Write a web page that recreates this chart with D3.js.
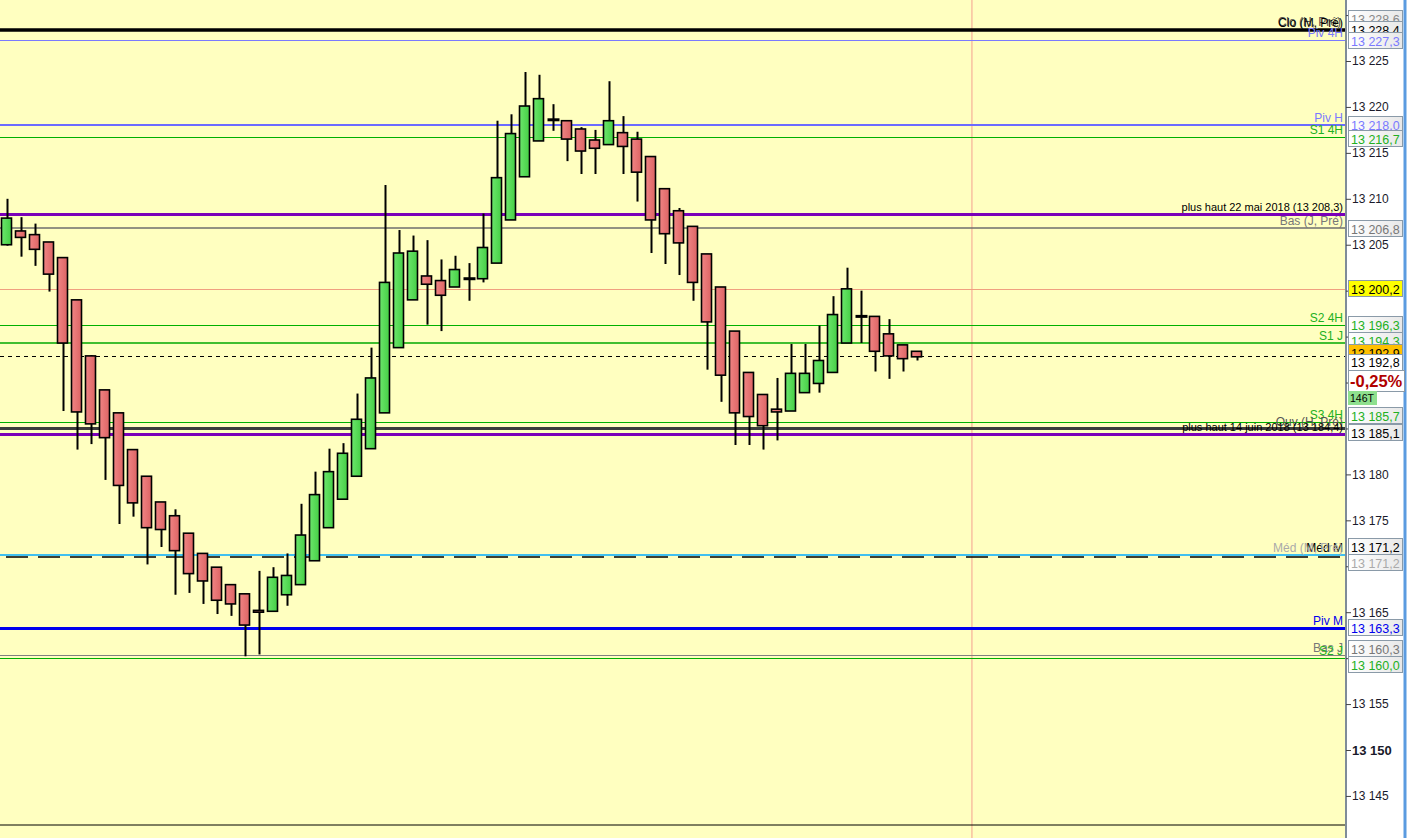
<!DOCTYPE html>
<html><head><meta charset="utf-8">
<script src="https://cdn.jsdelivr.net/npm/d3@7"></script>
<style>
html,body{margin:0;padding:0;background:#fff;overflow:hidden}
svg{display:block;font-family:"Liberation Sans",Arial,sans-serif}
</style></head>
<body>
<svg id="c" width="1407" height="838"></svg>
<script>
// ---- data ----
const candleIndex = d3.range(66);
const opens  = [13205.0,13206.5,13206.1,13205.3,13203.6,13199.0,13192.9,13189.2,13186.7,13182.7,13179.8,13177.0,13175.5,13173.6,13171.4,13169.9,13168.0,13167.0,13165.2,13165.1,13166.9,13168.0,13170.6,13174.2,13177.3,13179.8,13182.8,13186.7,13193.8,13199.0,13201.6,13201.1,13200.4,13201.3,13201.3,13203.0,13207.7,13212.4,13216.3,13218.6,13218.5,13217.6,13216.4,13215.9,13217.2,13216.5,13214.6,13211.1,13208.7,13207.0,13204.0,13200.4,13195.6,13191.1,13188.7,13187.1,13186.9,13188.9,13189.9,13191.1,13194.3,13197.2,13197.2,13195.3,13194.1,13193.4];
const highs  = [13210.0,13208.0,13207.3,13205.3,13203.6,13199.0,13193.0,13189.2,13186.7,13182.7,13179.8,13177.0,13176.2,13173.6,13171.4,13169.9,13168.0,13167.0,13169.5,13169.9,13171.4,13176.8,13180.3,13182.8,13183.4,13188.8,13193.8,13211.5,13206.6,13206.0,13205.5,13203.4,13203.8,13203.0,13208.4,13218.5,13219.2,13223.8,13223.5,13220.3,13218.5,13217.8,13217.5,13222.8,13219.0,13217.3,13214.6,13211.1,13209.0,13207.0,13204.0,13200.4,13195.6,13191.1,13188.7,13190.5,13194.2,13194.2,13196.2,13199.4,13202.5,13200.0,13197.2,13196.9,13194.1,13193.4];
const lows   = [13204.9,13203.7,13202.7,13199.9,13186.9,13182.7,13183.3,13179.4,13174.6,13175.4,13170.2,13172.1,13166.9,13167.1,13165.9,13164.8,13164.6,13160.2,13160.4,13165.1,13165.7,13168.0,13170.6,13174.2,13177.3,13179.8,13182.8,13186.7,13193.8,13199.0,13196.3,13195.6,13200.4,13198.9,13200.9,13203.0,13207.7,13212.4,13216.3,13217.4,13214.1,13212.7,13212.7,13215.9,13212.7,13209.7,13204.1,13202.9,13201.7,13198.9,13191.4,13187.9,13183.2,13183.2,13182.7,13183.7,13186.9,13188.9,13188.9,13191.1,13194.3,13194.3,13191.2,13190.4,13191.2,13192.4];
const closes = [13207.9,13205.8,13204.5,13201.8,13194.3,13186.8,13185.5,13184.0,13178.8,13176.9,13174.2,13174.0,13171.7,13169.2,13168.4,13166.3,13165.9,13163.6,13165.0,13168.8,13169.0,13173.4,13177.8,13180.3,13182.3,13186.0,13190.5,13200.9,13204.1,13204.3,13200.7,13199.5,13202.3,13201.3,13204.7,13212.3,13217.1,13220.1,13220.9,13218.6,13216.5,13215.2,13215.5,13218.5,13215.7,13212.9,13207.7,13206.2,13205.2,13200.9,13196.6,13190.8,13186.7,13186.3,13185.3,13186.8,13191.0,13191.0,13192.4,13197.4,13200.2,13197.2,13193.4,13192.9,13192.6,13192.8];

const levelValues = [13228.6,13228.4,13227.3,13218.0,13216.7,13208.3,13206.8,13200.2,13196.3,13194.3,13192.9,13185.7,13185.1,13184.4,13171.2,13171.2,13163.3,13160.3,13160.0];
const levelNames  = ["Clo (H, Pré)","Clo (M, Pré)","Piv 4H","Piv H","S1 4H","plus haut 22 mai 2018 (13 208,3)","Bas (J, Pré)","Dernier","S2 4H","S1 J","Clôture","S3 4H","Ouv (H, Pré)","plus haut 14 juin 2018 (13 184,4)","Méd M","Méd (M, Pré)","Piv M","Bas J","S2 J"];
const lastClose = 13192.8;
const changeText = "-0,25%";
const tickText = "146T";
const tickValues = [13145,13150,13155,13160,13165,13170,13175,13180,13185,13190,13195,13200,13205,13210,13215,13220,13225,13230];
const cursorIndex = 68.96;

// ---- styles ----
const W=1407,H=838, plotR=1345, plotB=825;
const styleOf = {
 "Clo (H, Pré)":{c:"#000",w:0,lab:"#555",box:"#888"},
 "Clo (M, Pré)":{c:"#000",w:3.5,lab:"#000",box:"#000"},
 "Piv 4H":{c:"#7a7aff",w:1,lab:"#7a7aff",box:"#7a7aff"},
 "Piv H":{c:"#6b6bff",w:2,lab:"#7a7aff",box:"#7a7aff"},
 "S1 4H":{c:"#00b000",w:1,lab:"#22b022",box:"#22b022"},
 "plus haut 22 mai 2018 (13 208,3)":{c:"#7a00b8",w:3,lab:"#000",box:null},
 "Bas (J, Pré)":{c:"#6e6e6e",w:1.5,lab:"#777",box:"#777"},
 "Dernier":{c:"#f0a080",w:1,lab:null,box:"#000",fill:"#ffff00"},
 "S2 4H":{c:"#00b000",w:1,lab:"#22b022",box:"#22b022"},
 "S1 J":{c:"#00a800",w:1.5,lab:"#22b022",box:"#22b022"},
 "Clôture":{c:"#000",w:1,dash:"4,4",lab:null,box:"#000",fill:"#ffc000"},
 "S3 4H":{c:"#00b000",w:1,lab:"#22b022",box:"#22b022"},
 "Ouv (H, Pré)":{c:"#3c3c3c",w:3,lab:"#555",box:"#000"},
 "plus haut 14 juin 2018 (13 184,4)":{c:"#7a00b8",w:3,lab:"#000",box:null},
 "Méd M":{c:"#000",w:1.6,dash:"22,10",dy:2,lab:"#000",box:"#000"},
 "Méd (M, Pré)":{c:"#40c0f0",w:2,lab:"#aaa",box:"#aaa"},
 "Piv M":{c:"#0000ee",w:3,lab:"#0000ee",box:"#0000ee"},
 "Bas J":{c:"#808080",w:1,lab:"#777",box:"#777"},
 "S2 J":{c:"#00b000",w:1,lab:"#22b022",box:"#22b022"}
};
const boxY = {"Clo (H, Pré)":19,"Clo (M, Pré)":30,"Piv 4H":41,"Piv H":125,"S1 4H":139,"Bas (J, Pré)":229,"Dernier":289,"S2 4H":325,"S1 J":341,"Clôture":353,"S3 4H":416,"Ouv (H, Pré)":433,"Méd M":547,"Méd (M, Pré)":563,"Piv M":628,"Bas J":649,"S2 J":665};
const extraBoxY=[362,381,398];

const svg=d3.select("#c");
const defs=svg.append("defs");
function grad(id,a,b){const g=defs.append("linearGradient").attr("id",id).attr("x1","0").attr("x2","1").attr("y1","0").attr("y2","0");
 g.append("stop").attr("offset","0").attr("stop-color",a);g.append("stop").attr("offset","1").attr("stop-color",b);}
grad("gUp","#6ce66c","#45cf45");grad("gDn","#f08484","#dd6464");grad("gBox","#ffffff","#e8e8e8");

const y=d3.scaleLinear().domain([13150,13225]).range([750,61]);
const x=d3.scaleBand().domain(candleIndex).range([-0.5,-0.5+14*candleIndex.length]).paddingInner(0.28).paddingOuter(0.14);
const step=x.step(), bw=x.bandwidth();
const cx=i=>x(i)+bw/2;

svg.append("rect").attr("x",0).attr("y",0).attr("width",W).attr("height",H).attr("fill","#fff");
svg.append("rect").attr("x",0).attr("y",0).attr("width",plotR).attr("height",H).attr("fill","#ffffc0");

// vertical cursor line
svg.append("line").attr("x1",cx(0)+cursorIndex*step).attr("x2",cx(0)+cursorIndex*step).attr("y1",0).attr("y2",H).attr("stroke","#f4a090").attr("stroke-width",1);

// level lines
levelValues.forEach((v,i)=>{
 const s=styleOf[levelNames[i]]; if(!s.w) return;
 const yy=Math.round(y(v))+(s.dy||0)+0.5*(Math.round(s.w)%2);
 svg.append("line").attr("x1",s.dash==="22,10"?6:0).attr("x2",plotR).attr("y1",yy).attr("y2",yy)
  .attr("stroke",s.c).attr("stroke-width",s.w).attr("stroke-dasharray",s.dash||null);
});

// candles
const g=svg.append("g");
candleIndex.forEach(i=>{
 const o=opens[i],c=closes[i],h=highs[i],l=lows[i];
 const X=Math.round(cx(i))+0.5;
 g.append("line").attr("x1",X).attr("x2",X).attr("y1",y(h)).attr("y2",y(l)).attr("stroke","#000").attr("stroke-width",2);
 if(o===c){
  g.append("line").attr("x1",X-6).attr("x2",X+6).attr("y1",y(o)).attr("y2",y(o)).attr("stroke","#000").attr("stroke-width",3);
 } else {
  const top=y(Math.max(o,c)), bot=y(Math.min(o,c));
  g.append("rect").attr("x",Math.round(x(i))+0.5).attr("y",top).attr("width",Math.round(bw)).attr("height",Math.max(1,bot-top))
   .attr("fill",c>o?"url(#gUp)":"url(#gDn)").attr("stroke","#000").attr("stroke-width",1.6);
 }
});

// level labels (left of axis)
levelValues.forEach((v,i)=>{
 const n=levelNames[i], s=styleOf[n]; if(!s.lab) return;
 let yy=y(v)-3;
 if(n==="Clo (H, Pré)"||n==="Ouv (H, Pré)") yy=y(v)-2;
 svg.append("text").attr("x",n==="Clo (H, Pré)"?plotR-4:plotR-2).attr("y",yy).attr("text-anchor","end")
  .attr("font-size",n.startsWith("plus haut")?11:12).attr("fill",s.lab).text(n);
});

// bottom border
svg.append("line").attr("x1",0).attr("x2",plotR).attr("y1",plotB).attr("y2",plotB).attr("stroke","#000").attr("stroke-width",1);

// axis
const allBoxY=Object.values(boxY).concat(extraBoxY);
const covered=t=>allBoxY.some(b=>Math.abs(b-y(t))<10);
const axis=d3.axisRight(y).tickValues(tickValues).tickSize(5).tickFormat(d=>covered(d)?"":d3.format(",")(d).replace(","," "));
const ag=svg.append("g").attr("transform",`translate(${plotR+1},0)`).call(axis);
ag.select(".domain").attr("stroke","#7f8c99").attr("stroke-width",2).attr("d",`M0,0V${H}`);
ag.selectAll(".tick line").attr("stroke","#444");
ag.selectAll(".tick text").attr("x",6).attr("fill","#1a1a2a")
 .attr("font-family","\"Liberation Sans\",Arial,sans-serif")
 .attr("font-weight",d=>d===13150?"bold":null).attr("font-size",d=>d===13150?13:12);
ag.selectAll(".tick text").filter(function(){return this.textContent==="";}).remove();

// right edge
svg.append("line").attr("x1",1405).attr("x2",1405).attr("y1",0).attr("y2",H).attr("stroke","#5b9be0").attr("stroke-width",3);

// value boxes
const fmt=v=>d3.format(",.1f")(v).replace(","," ").replace(".",",");
levelValues.forEach((v,i)=>{
 const n=levelNames[i], s=styleOf[n]; if(!s.box) return;
 const cy=boxY[n];
 svg.append("rect").attr("x",1348.5).attr("y",cy-8.5).attr("width",54).attr("height",16)
  .attr("fill",s.fill||"url(#gBox)").attr("stroke","#8a9aa8").attr("stroke-width",1);
 svg.append("text").attr("x",1351).attr("y",cy+4.5).attr("font-size",12.5).attr("fill",s.box).text(fmt(v));
});
// last close box
svg.append("rect").attr("x",1348.5).attr("y",354.5).attr("width",54).attr("height",16).attr("fill","#fff").attr("stroke","#8a9aa8");
svg.append("text").attr("x",1351).attr("y",367).attr("font-size",12.5).attr("fill","#000").text(fmt(lastClose));
svg.append("rect").attr("x",1348.5).attr("y",370.5).attr("width",56).attr("height",21).attr("fill","#fff").attr("stroke","#8a9aa8");
svg.append("text").attr("x",1350).attr("y",387).attr("font-size",16.5).attr("font-weight","bold").attr("fill","#b00000").text(changeText);
svg.append("rect").attr("x",1348).attr("y",391).attr("width",29).attr("height",14).attr("fill","#8ee08e");
svg.append("text").attr("x",1350).attr("y",402).attr("font-size",10.5).attr("fill","#000").text(tickText);
</script>
</body></html>
